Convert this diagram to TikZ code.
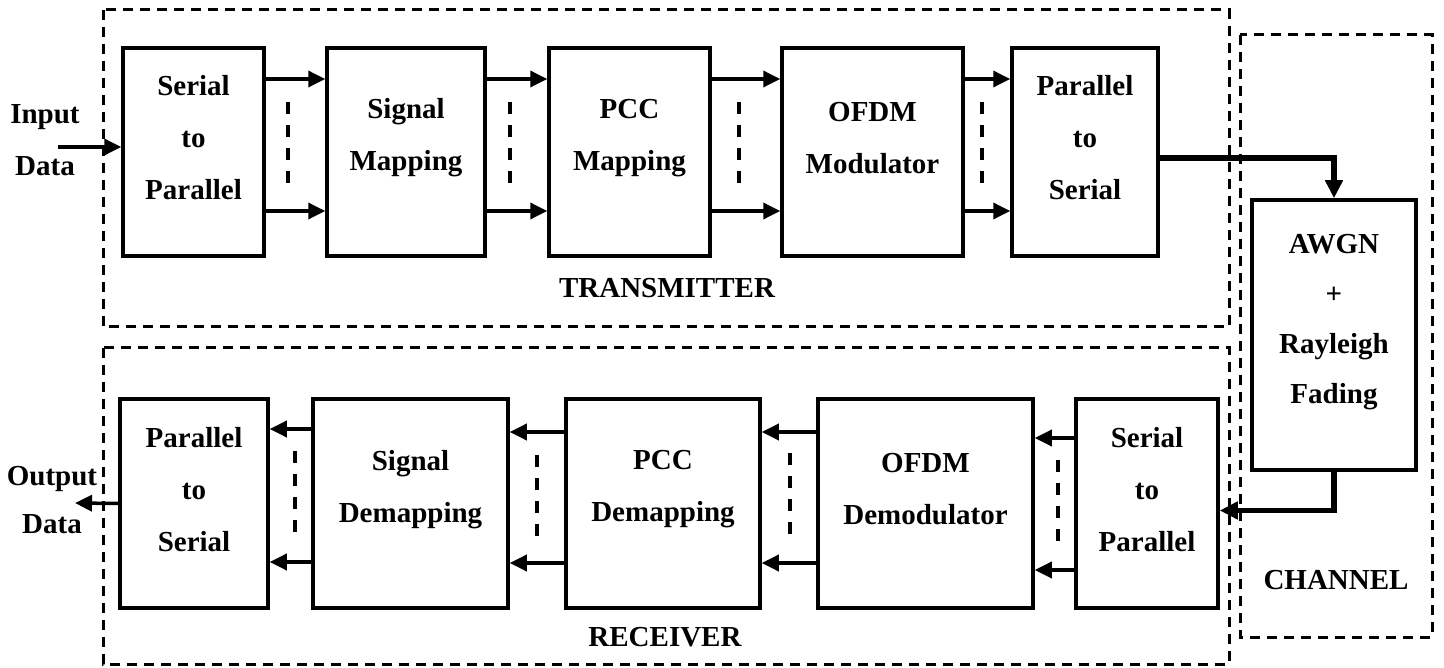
\documentclass[tikz,border=0pt]{standalone}
\usepackage{fontspec}
\setmainfont{Liberation Serif}
\usetikzlibrary{arrows.meta}

\begin{document}
\begin{tikzpicture}[x=1pt,y=-1pt,
    font=\fontsize{29}{52}\selectfont\bfseries,
    blk/.style={draw,line width=3.5pt,minimum height=208pt,inner sep=0pt},
    txt/.style={align=center,yshift=14pt},
    arr/.style={line width=3.5pt,-{Triangle[length=17pt,width=16pt]}},
    thk/.style={line width=5.5pt,-{Triangle[length=18pt,width=17pt]}},
    frame/.style={line width=3pt,dash pattern=on 10pt off 7pt},
    gap/.style={line width=3.5pt,dash pattern=on 12pt off 11pt}]
    \useasboundingbox (0,0) rectangle (1444,668);

    % dashed frames
    \draw[frame] (103,10) rectangle (1229,327);
    \draw[frame] (103,348) rectangle (1229,664);
    \draw[frame] (1240,35) rectangle (1432,637);
    \node (txlbl) at (667,288) {TRANSMITTER};
    \node (rxlbl) at (665,637) {RECEIVER};
    \node (chlbl) at (1336,580) {CHANNEL};

    % transmitter
    \node[blk,minimum width=141pt,label={[txt]center:{Serial\\to\\Parallel}}] (tx1) at (193.5,152) {};
    \node[blk,minimum width=158pt,label={[txt]center:{Signal\\Mapping}}] (tx2) at (406,152) {};
    \node[blk,minimum width=161pt,label={[txt]center:{PCC\\Mapping}}] (tx3) at (629.5,152) {};
    \node[blk,minimum width=181pt,label={[txt]center:{OFDM\\Modulator}}] (tx4) at (872.5,152) {};
    \node[blk,minimum width=146pt,label={[txt]center:{Parallel\\to\\Serial}}] (tx5) at (1085,152) {};

    % channel
    \node[blk,minimum width=164pt,minimum height=270pt,
        label={[txt,yshift=-1pt]center:{AWGN\\[-2pt]+\\[-2pt]Rayleigh\\[-2pt]Fading}}] (awgn) at (1334,335) {};

    % receiver
    \node[blk,minimum width=148pt,minimum height=209pt,label={[txt]center:{Parallel\\to\\Serial}}] (rx1) at (194,503.5) {};
    \node[blk,minimum width=195pt,minimum height=209pt,label={[txt]center:{Signal\\Demapping}}] (rx2) at (410.5,503.5) {};
    \node[blk,minimum width=194pt,minimum height=209pt,label={[txt]center:{PCC\\Demapping}}] (rx3) at (663,503.5) {};
    \node[blk,minimum width=215pt,minimum height=209pt,label={[txt]center:{OFDM\\Demodulator}}] (rx4) at (925.5,503.5) {};
    \node[blk,minimum width=142pt,minimum height=209pt,label={[txt]center:{Serial\\to\\Parallel}}] (rx5) at (1147,503.5) {};

    \node[align=center] (indata) at (45,140) {Input\\Data};
    \node[align=center] (outdata) at (52,500) {Output\\[-4pt]Data};
    \coordinate (in) at (58,147);
    \coordinate (out) at (75,503);

    % arrows
    \draw[arr] (in) -- (in -| tx1.west);
    \foreach \a/\b in {tx1/tx2,tx2/tx3,tx3/tx4,tx4/tx5}{
        \draw[arr] (\a.east |- 0,79) -- (\b.west |- 0,79);
        \draw[arr] (\a.east |- 0,211) -- (\b.west |- 0,211);
    }
    \draw[thk] ([yshift=-6pt]tx5.east) -| (awgn.north);
    \draw[thk] (awgn.south) |- ([yshift=-7pt]rx5.east);
    \foreach \a/\b/\u/\v in {rx2/rx1/429/562,rx3/rx2/432/563,rx4/rx3/432/563,rx5/rx4/438/570}{
        \draw[arr] (\a.west |- 0,\u) -- (\b.east |- 0,\u);
        \draw[arr] (\a.west |- 0,\v) -- (\b.east |- 0,\v);
    }
    \draw[arr] (rx1.west) -- (out);

    % parallel lines
    \foreach \x in {288,510,739,982}
        \draw[gap] (\x,102) -- (\x,183);
    \foreach \x/\y in {295/451,537/455,790/453,1058/460}
        \draw[gap] (\x,\y) -- (\x,\y+82);
\end{tikzpicture}
\end{document}
